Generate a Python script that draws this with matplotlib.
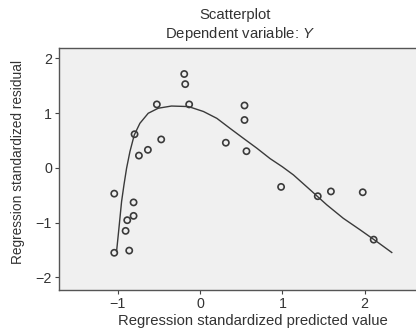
import matplotlib
matplotlib.use("Agg")
import matplotlib.pyplot as plt

plt.rcParams['font.family'] = ['Liberation Sans', 'DejaVu Sans']
plt.rcParams['mathtext.fontset'] = 'custom'
plt.rcParams['mathtext.rm'] = 'Liberation Sans'
plt.rcParams['mathtext.it'] = 'Liberation Sans:italic'

# Observed points: standardized predicted value vs standardized residual
pred = [-1.045, -1.045, -0.863, -0.907, -0.887, -0.81, -0.81, -0.798, -0.745,
        -0.636, -0.527, -0.474, -0.194, -0.182, -0.134, 0.312, 0.539, 0.539,
        0.563, 0.984, 1.43, 1.59, 1.977, 2.11]
resid = [-0.47, -1.55, -1.51, -1.15, -0.955, -0.876, -0.63, 0.615, 0.225,
         0.33, 1.16, 0.52, 1.715, 1.53, 1.16, 0.46, 1.14, 0.875,
         0.305, -0.347, -0.517, -0.43, -0.445, -1.31]

# Smoothed fit line
fit_x = [-1.017, -0.996, -0.976, -0.956, -0.927, -0.895, -0.854, -0.802,
         -0.733, -0.632, -0.51, -0.349, -0.24, -0.142, 0.04, 0.203, 0.365,
         0.526, 0.689, 0.85, 1.0, 1.134, 1.337, 1.54, 1.74, 1.944, 2.147, 2.33]
fit_y = [-1.527, -1.22, -0.92, -0.615, -0.31, -0.005, 0.30, 0.60,
         0.815, 0.998, 1.09, 1.13, 1.125, 1.12, 1.03, 0.905, 0.72,
         0.54, 0.36, 0.17, 0.02, -0.128, -0.40, -0.675, -0.92, -1.13, -1.345, -1.545]

x_ticks = [-1, 0, 1, 2]
y_ticks = [-2, -1, 0, 1, 2]

fig = plt.figure(figsize=(4.16, 3.34), dpi=100)
ax = fig.add_axes([59 / 416, 1 - 290 / 334, (418 - 59) / 416, (290 - 48) / 334])
ax.set_facecolor('#f0f0f0')

ax.plot(fit_x, fit_y, color='#3a3a3a', lw=1.0, zorder=2,
        solid_joinstyle='round')
ax.scatter(pred, resid, s=20, facecolors='none', edgecolors='#3a3a3a',
           linewidths=1.2, zorder=3)

ax.set_xlim(-1.717, 2.649)
ax.set_ylim(-2.23, 2.19)
ax.set_xticks(x_ticks)
ax.set_yticks(y_ticks)
ax.set_xticklabels(['\u22121', '0', '1', '2'])
ax.set_yticklabels(['\u22122', '\u22121', '0', '1', '2'])
ax.tick_params(direction='out', length=3, width=0.8, color='#444444',
               labelsize=10.3, labelcolor='#333333', pad=2)
for side in ['top', 'bottom', 'left', 'right']:
    ax.spines[side].set_color('#555555')
    ax.spines[side].set_linewidth(1.0)

ax.set_xlabel('Regression standardized predicted value', fontsize=10.7,
              color='#333333')
ax.xaxis.set_label_coords((253 - 59) / 359, -(314 - 290) / 242)
ax.set_ylabel('Regression standardized residual', fontsize=9.9,
              color='#333333')
ax.yaxis.set_label_coords(-(59 - 25) / 359, (290 - 162) / 242)
fig.text(0.565, 1 - 15 / 334, 'Scatterplot', ha='center', va='center',
         fontsize=10.7, color='#333333')
fig.text(0.578, 1 - 34 / 334, 'Dependent variable: $\\mathit{Y}$', ha='center',
         va='center', fontsize=10.7, color='#333333')

fig.savefig('out.png', dpi=100, facecolor='white')
